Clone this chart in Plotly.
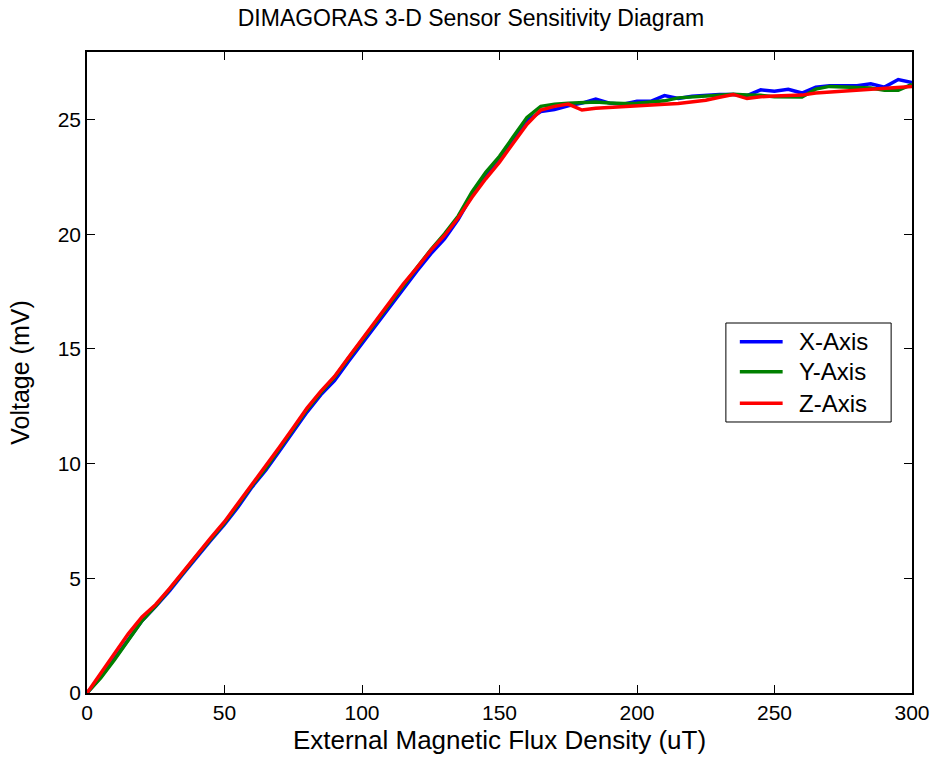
import plotly.graph_objects as go

flux = list(range(0, 305, 5))

x_axis = [0, 0.7, 1.5, 2.35, 3.15, 3.78, 4.45, 5.2, 5.95, 6.65, 7.35, 8.12, 8.98, 9.72,
          10.55, 11.4, 12.25, 13.0, 13.62, 14.45, 15.25, 16.05, 16.85, 17.65, 18.4, 19.15,
          19.8, 20.65, 21.7, 22.55, 23.3, 24.1, 24.95, 25.35, 25.44, 25.6, 25.72, 25.9,
          25.72, 25.67, 25.8, 25.8, 26.05, 25.92, 26.02, 26.06, 26.1, 26.1, 26.05, 26.3,
          26.24, 26.32, 26.16, 26.42, 26.48, 26.48, 26.48, 26.56, 26.42, 26.75, 26.62]

y_axis = [0, 0.66, 1.45, 2.3, 3.15, 3.8, 4.5, 5.25, 6.0, 6.72, 7.42, 8.22, 9.05, 9.8,
          10.66, 11.5, 12.36, 13.1, 13.76, 14.58, 15.38, 16.18, 16.98, 17.8, 18.55, 19.32,
          20.02, 20.8, 21.85, 22.7, 23.4, 24.25, 25.1, 25.58, 25.67, 25.72, 25.75, 25.77,
          25.73, 25.7, 25.72, 25.77, 25.82, 25.95, 25.99, 26.05, 26.09, 26.11, 26.08, 26.06,
          26.0, 25.98, 25.99, 26.33, 26.45, 26.42, 26.39, 26.38, 26.28, 26.28, 26.54]

z_axis = [0, 0.85, 1.72, 2.58, 3.32, 3.86, 4.55, 5.3, 6.05, 6.76, 7.47, 8.27, 9.12, 9.86,
          10.72, 11.57, 12.42, 13.15, 13.8, 14.62, 15.42, 16.22, 17.02, 17.83, 18.55, 19.3,
          19.95, 20.72, 21.62, 22.42, 23.15, 23.95, 24.8, 25.42, 25.58, 25.68, 25.42, 25.5,
          25.54, 25.58, 25.62, 25.65, 25.67, 25.7, 25.77, 25.85, 25.98, 26.1, 25.92, 26.0,
          26.03, 26.06, 26.07, 26.16, 26.2, 26.27, 26.3, 26.34, 26.38, 26.42, 26.45]

series_names = ["X-Axis", "Y-Axis", "Z-Axis"]
series_values = [x_axis, y_axis, z_axis]
series_colors = ["#0000ff", "#008000", "#ff0000"]

FONT = "Liberation Sans, Arial, sans-serif"

fig = go.Figure()
for name, vals, col in zip(series_names, series_values, series_colors):
    fig.add_trace(go.Scatter(x=flux, y=vals, mode="lines", name=name, showlegend=False,
                             line=dict(color=col, width=3.5)))

# Custom legend box (MATLAB style), in paper coordinates
fig.add_shape(type="rect", xref="paper", yref="paper",
              x0=0.7744, x1=0.9747, y0=0.4228, y1=0.5772,
              line=dict(color="black", width=1), fillcolor="white", layer="above")
leg_y = [0.5481, 0.5012, 0.4520]
for name, col, ly in zip(series_names, series_colors, leg_y):
    fig.add_shape(type="line", xref="paper", yref="paper",
                  x0=0.7913, x1=0.8432, y0=ly, y1=ly,
                  line=dict(color=col, width=3.5), layer="above")
    fig.add_annotation(text=name, xref="paper", yref="paper", x=0.8601, y=ly,
                       xanchor="left", yanchor="middle", showarrow=False,
                       font=dict(family=FONT, size=24, color="black"))

axis_common = dict(showline=True, linecolor="black", linewidth=1.5, mirror="ticks",
                   ticks="inside", ticklen=8, tickwidth=1, tickcolor="black",
                   showgrid=False, zeroline=False,
                   tickfont=dict(family=FONT, size=21, color="black"))

fig.update_layout(
    width=942, height=766,
    margin=dict(l=87, r=26, t=52, b=73),
    paper_bgcolor="white", plot_bgcolor="white",
    title=dict(text="DIMAGORAS 3-D Sensor Sensitivity Diagram", x=0.5, xanchor="center",
               y=0.976, yanchor="middle",
               font=dict(family=FONT, size=23, color="black")),
    xaxis=dict(range=[0, 300], tickvals=[0, 50, 100, 150, 200, 250, 300],
               title=dict(text="External Magnetic Flux Density (uT)", standoff=8,
                          font=dict(family=FONT, size=26, color="black")),
               **axis_common),
    yaxis=dict(range=[0, 27.95], tickvals=[0, 5, 10, 15, 20, 25],
               title=dict(text="Voltage (mV)", standoff=21,
                          font=dict(family=FONT, size=25, color="black")),
               **axis_common),
    showlegend=False,
)

fig.write_html("out.html")
